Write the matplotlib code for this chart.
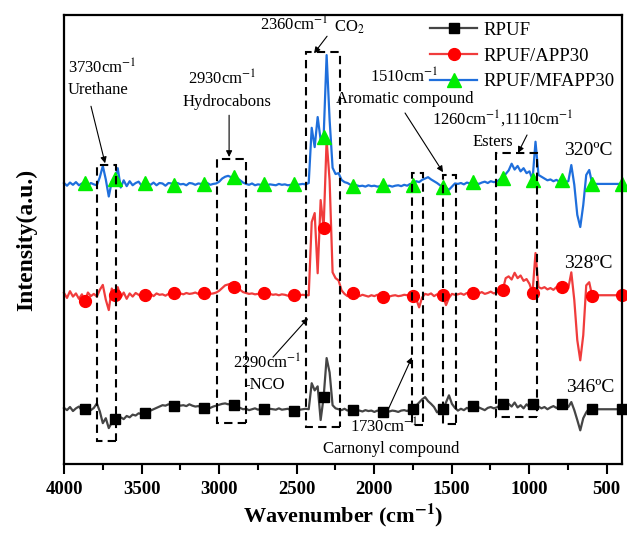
import numpy as np
import matplotlib
matplotlib.use("Agg")
import matplotlib.pyplot as plt
from matplotlib.patches import Rectangle
from matplotlib.ticker import MultipleLocator

plt.rcParams["font.family"] = ["Liberation Serif", "DejaVu Serif"]
plt.rcParams["mathtext.fontset"] = "stix"

# ------------------------------------------------------------
# Data (FTIR spectra of the evolved gases)
# ------------------------------------------------------------
wavenumber = np.linspace(4000, 400, 188)

# relative intensities (a.u.), 10 values per row
rpuf = [
    0.3, -0.2, 0.5, -0.4, 0.2, 0.6, -0.3, 0.0, 0.4, -0.2,
    0.3, 1.3, -0.5, -3.1, -2.0, -4.2, -3.0, -2.2, -2.4, -1.8,
    -2.2, -1.5, -1.8, -1.2, -1.4, -0.9, -1.1, -0.9, -0.8, -0.3,
    0.0, 0.3, 0.6, 0.9, 0.8, 1.1, 0.9, 0.7, 1.1, 0.8,
    0.9, 0.7, 1.1, 0.8, 0.6, 0.7, 0.4, 0.2, 0.5, 0.3,
    0.6, 0.8, 1.0, 1.2, 1.3, 1.1, 1.2, 0.9, 0.6, 0.3,
    0.0, 0.1, -0.2, 0.0, 0.2, -0.1, 0.1, 0.0, -0.2, 0.1,
    0.0, -0.1, 0.2, -0.1, 0.0, 0.1, -0.2, -0.4, 0.1, -0.1,
    0.0, 0.1, 0.0, 5.8, 4.2, 5.1, -2.4, 2.7, 11.4, 8.2,
    0.9, 0.2, 0.0, -0.2, 0.1, -0.3, -0.1, -0.2, -0.2, -0.3,
    -0.5, -0.2, -0.4, -0.3, -0.6, -0.3, -0.5, -0.7, -0.2, -0.5,
    -0.3, -0.4, -0.6, -0.3, -0.2, -0.4, 0.0, 0.0, 0.8, 1.5,
    2.2, 2.7, 1.8, 1.2, 0.5, -0.7, -0.2, 0.0, 1.5, 3.1,
    1.2, 0.3, -0.3, 0.1, -0.2, 0.3, 0.0, 0.7, -0.1, 0.4,
    0.1, -0.2, 0.3, 0.5, 0.2, 0.4, 0.8, 1.1, 0.3, 1.2,
    0.6, 1.5, 0.4, 0.9, 0.2, 1.1, 0.5, 1.1, 0.9, 0.6,
    0.2, 0.5, 0.0, 0.4, 0.7, 0.3, 0.6, 1.1, 0.4, 0.5,
    1.6, -0.2, -2.4, -4.7, -2.0, -0.7, 0.2, 0.0, 0.0, 0.0,
    0.0, 0.0, 0.0, 0.0, 0.0, 0.0, 0.0, 0.0,
]

rpuf_app30 = [
    0.5, -0.6, 0.9, -0.3, 0.4, -0.8, 0.2, -1.3, 0.6, -0.2,
    0.3, -0.3, 1.2, 2.3, -1.0, -3.3, 1.5, 0.0, 1.8, -0.5,
    0.6, -0.8, 0.4, -0.3, 0.5, 0.1, -0.4, 0.0, 0.2, 0.3,
    -0.2, 0.4, 0.1, 0.2, -0.1, 0.3, 0.2, 0.5, 0.3, 0.4,
    0.2, 0.5, 0.3, 0.4, 0.6, 0.3, 0.4, 0.4, 0.5, 0.3,
    0.4, 0.6, 1.0, 1.6, 2.2, 2.4, 2.6, 1.8, 1.8, 1.2,
    0.7, 0.5, 0.3, 0.4, 0.2, 0.3, 0.1, 0.4, 0.2, 0.3,
    0.1, 0.2, 0.0, 0.2, 0.1, -0.1, 0.1, 0.0, -0.2, 0.0,
    0.1, 0.0, 0.0, 16.3, 18.3, 4.9, 21.2, 15.0, 34.6, 25.6,
    5.1, 3.8, 3.3, 1.1, 0.3, -0.2, 0.1, 0.4, 0.0, -0.2,
    0.1, -0.1, -0.3, 0.0, -0.2, 0.1, -0.1, -0.4, 0.0, -0.3,
    -0.1, 0.0, -0.2, -0.1, 0.1, 0.0, 0.2, -0.2, -0.8, -2.7,
    -0.5, 0.3, 0.1, 0.4, -0.2, 0.2, -0.3, 0.0, -2.2, -0.6,
    0.3, 0.1, 0.2, 0.4, 0.1, 0.5, 0.3, 0.6, 0.2, 0.4,
    0.7, 0.3, 0.5, 0.8, 0.4, 0.6, 1.5, 1.1, 3.8, 4.2,
    3.5, 5.0, 3.8, 4.4, 3.2, 3.6, 2.5, 0.5, 9.4, 1.8,
    1.5, 1.8, 1.3, 1.6, 1.2, 1.8, 1.5, 1.8, 1.4, 1.6,
    5.1, -1.1, -10.0, -14.5, -8.9, 2.2, 2.9, -0.2, 0.0, 0.0,
    0.0, 0.0, 0.0, 0.0, 0.0, 0.0, 0.0, 0.0,
]

rpuf_mfapp30 = [
    0.2, -0.4, 0.3, -0.2, 0.4, -0.3, 0.1, 0.3, -0.4, 0.2,
    -0.1, -0.3, 1.5, 4.0, 1.0, -2.8, 0.5, 1.0, 3.5, -0.8,
    0.8, -0.5, 0.6, -0.3, 0.2, 0.5, -0.4, 0.3, 0.1, -0.2,
    0.3, -0.3, 0.2, 0.1, -0.4, 0.2, 0.1, -0.2, 0.2, -0.1,
    0.0, -0.3, 0.2, 0.1, -0.2, 0.1, 0.0, -0.1, 0.2, -0.2,
    0.0, 0.1, 0.5, 1.2, 1.6, 1.8, 1.5, 1.6, 1.3, 0.8,
    0.3, 0.0, -0.2, 0.1, -0.3, -0.1, -0.2, 0.0, -0.3, -0.1,
    -0.2, -0.3, 0.0, -0.2, -0.1, -0.3, -0.2, -0.1, -0.2, -0.1,
    0.0, -0.1, 0.2, 12.5, 8.2, 14.9, 9.8, 10.5, 28.7, 14.3,
    3.6, 2.2, 2.4, 0.9, 0.4, 0.2, -0.2, -0.4, -0.3, -0.5,
    -0.4, -0.6, -0.3, -0.5, -0.4, -0.6, -0.5, -0.3, -0.5, -0.4,
    -0.6, -0.4, -0.3, -0.5, -0.2, -0.4, 0.0, -0.2, 0.6, 0.4,
    0.9, 1.2, 1.5, 1.0, 0.6, 0.2, -0.3, -0.7, -0.9, -1.3,
    -0.6, 0.1, 0.0, 0.2, -0.1, 0.3, 0.1, 0.4, 0.2, 0.0,
    0.3, 0.5, 0.2, 0.6, 0.4, 0.5, 1.0, 1.3, 2.2, 3.0,
    4.5, 3.2, 4.0, 2.8, 3.5, 2.4, 2.8, 0.9, 9.4, 2.0,
    1.6, 1.2, 0.8, 1.0, 0.6, 0.9, 0.5, 0.8, 0.4, 0.6,
    4.2, -0.2, -6.9, -9.6, -4.7, 2.0, 3.1, 0.0, 0.0, 0.0,
    0.0, 0.0, 0.0, 0.0, 0.0, 0.0, 0.0, 0.0,
]

labels = ["RPUF", "RPUF/APP30", "RPUF/MFAPP30"]
temperatures = ["346ºC", "328ºC", "320ºC"]
stack_offset = [12.2, 37.6, 62.4]

# highlighted bands: wavenumber range and vertical extent
box_hi_wn = [3787, 3014, 2441, 1758, 1552, 1210]
box_lo_wn = [3665, 2827, 2222, 1681, 1468, 946]
box_bottom = [5.1, 9.1, 8.2, 8.7, 8.9, 10.5]
box_top = [66.6, 67.9, 91.8, 64.8, 64.4, 69.3]

# ------------------------------------------------------------
# Plot
# ------------------------------------------------------------
fig = plt.figure(figsize=(6.27, 5.35), dpi=100)
ax = fig.add_axes([0.1021, 0.1327, 0.890, 0.839])

styles = [
    dict(color="#454545", marker="s", mfc="black", mec="black", ms=7.5),
    dict(color="#f03c3c", marker="o", mfc="red", mec="red", ms=8.5),
    dict(color="#1f6fdc", marker="^", mfc="#00ee00", mec="#00ee00", ms=9.5),
]
series = [rpuf, rpuf_app30, rpuf_mfapp30]

for vals, off, lab, st in zip(series, stack_offset, labels, styles):
    ax.plot(wavenumber, np.array(vals) + off, lw=1.6, markevery=(7, 10),
            label=lab, clip_on=False, **st)

for x0, x1, y0, y1 in zip(box_hi_wn, box_lo_wn, box_bottom, box_top):
    ax.add_patch(Rectangle((x1, y0), x0 - x1, y1 - y0, fill=False,
                           ec="black", lw=1.5, ls=(0, (4, 2.5)), zorder=5))

# temperature labels
ax.text(619, 68.8, temperatures[2], ha="center", va="baseline", fontsize=14)
ax.text(619, 43.7, temperatures[1], ha="center", va="baseline", fontsize=14)
ax.text(606, 16.0, temperatures[0], ha="center", va="baseline", fontsize=14)

# band annotations
fs = 12
ax.text(3755, 86.9, r"3730cm$^{-1}$", ha="center", va="baseline", fontsize=fs)
ax.text(3781, 82.4, "Urethane", ha="center", va="baseline", fontsize=fs)
ax.text(2981, 84.4, r"2930cm$^{-1}$", ha="center", va="baseline", fontsize=fs)
ax.text(2948, 79.7, "Hydrocabons", ha="center", va="baseline", fontsize=fs)
ax.text(2735, 96.4, r"2360cm$^{-1}$", ha="left", va="baseline", fontsize=fs)
ax.text(2258, 96.4, r"CO$_2$", ha="left", va="baseline", fontsize=fs)
ax.text(1806, 84.9, r"1510cm$^{-1}$", ha="center", va="baseline", fontsize=fs)
ax.text(1800, 80.4, "Aromatic compound", ha="center", va="baseline", fontsize=fs)
ax.text(1174, 75.7, r"1260cm$^{-1}$,1110cm$^{-1}$", ha="center", va="baseline", fontsize=fs)
ax.text(1232, 70.8, "Esters", ha="center", va="baseline", fontsize=fs)
ax.text(2690, 21.2, r"2290cm$^{-1}$", ha="center", va="baseline", fontsize=fs)
ax.text(2703, 16.7, "-NCO", ha="center", va="baseline", fontsize=fs)
ax.text(1935, 6.9, r"1730cm$^{-1}$", ha="center", va="baseline", fontsize=fs)
ax.text(1890, 2.4, "Carnonyl compound", ha="center", va="baseline", fontsize=fs)

arrow = dict(arrowstyle="-|>", color="black", lw=0.8, mutation_scale=9,
             shrinkA=0, shrinkB=0)
arrows = [
    ((3826, 79.7), (3735, 67.0)),
    ((2935, 77.7), (2935, 68.4)),
    ((2303, 95.3), (2387, 91.5)),
    ((1800, 78.2), (1555, 65.0)),
    ((1013, 73.3), (1071, 69.3)),
    ((2652, 23.8), (2426, 32.5)),
    ((1916, 11.6), (1755, 23.8)),
]
for start, tip in arrows:
    ax.annotate("", xy=tip, xytext=start, arrowprops=arrow)

# axes
ax.set_xlim(4000, 400)
ax.set_ylim(0, 100)
ax.set_xticks([4000, 3500, 3000, 2500, 2000, 1500, 1000, 500])
ax.xaxis.set_minor_locator(MultipleLocator(250))
ax.set_yticks([])
ax.tick_params(axis="x", which="major", direction="out", length=7, width=1.5,
               labelsize=13.5, pad=5)
ax.tick_params(axis="x", which="minor", direction="out", length=4, width=1.5)
for lbl in ax.get_xticklabels():
    lbl.set_fontweight("bold")
for sp in ax.spines.values():
    sp.set_linewidth(1.6)

ax.set_xlabel(r"Wavenumber (cm$^{\mathbf{-1}}$)", fontsize=16, fontweight="bold",
              labelpad=3)
ax.set_ylabel("Intensity(a.u.)", fontsize=17, fontweight="bold")
ax.yaxis.set_label_coords(-0.048, 0.5)

ax.legend(loc="upper left", bbox_to_anchor=(0.656, 0.985), frameon=False,
          fontsize=13.5, handlelength=2.5, handletextpad=0.35,
          labelspacing=0.45, borderpad=0, borderaxespad=0)

fig.savefig("out.png", dpi=100)
